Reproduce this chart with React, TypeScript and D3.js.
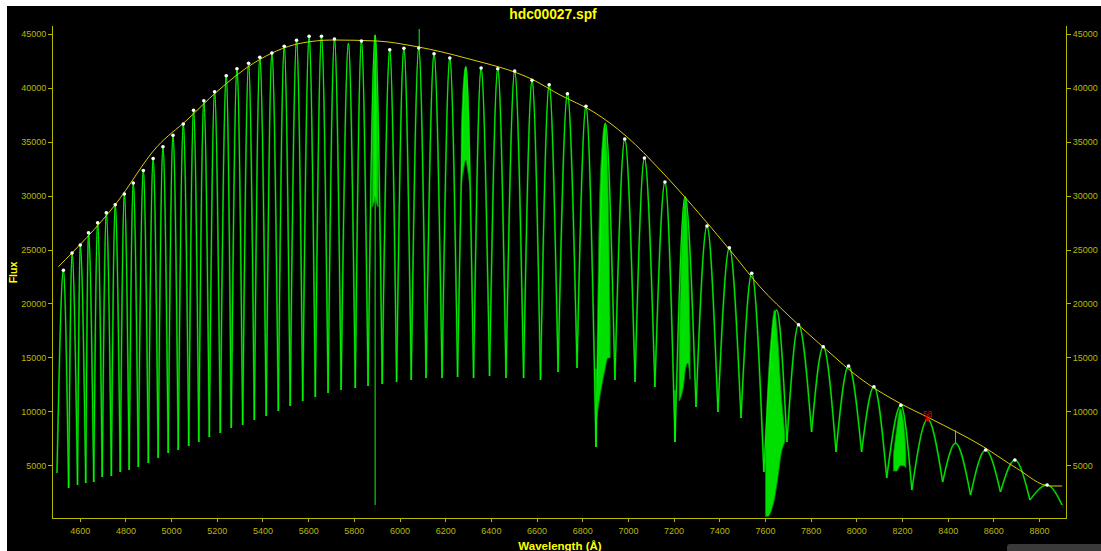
import React from "react";
import * as d3 from "d3";

const W = 1101;
const H = 551;

const title = "hdc00027.spf";
const xLabel = "Wavelength (Å)";
const yLabel = "Flux";

const xTicks = [4600, 4800, 5000, 5200, 5400, 5600, 5800, 6000, 6200, 6400, 6600, 6800, 7000, 7200, 7400, 7600, 7800, 8000, 8200, 8400, 8600, 8800];
const yTicks = [5000, 10000, 15000, 20000, 25000, 30000, 35000, 40000, 45000];

// echelle order peaks (blaze maxima)
const orderPeakWave = [
  4526, 4564, 4600, 4636, 4676, 4714, 4753, 4793, 4832, 4876,
  4919, 4962, 5006, 5051, 5096, 5141, 5188, 5239, 5286, 5337,
  5386, 5439, 5493, 5547, 5602, 5656, 5713, 5774, 5831, 5891,
  5955, 6017, 6082, 6149, 6218, 6288, 6355, 6428, 6502, 6578,
  6653, 6733, 6814, 6899, 6984, 7070, 7160, 7248, 7344, 7442,
  7540, 7649, 7745, 7853, 7964, 8075, 8193, 8310, 8432, 8564,
  8692, 8833,
];
const orderPeakFlux = [
  23125, 24730, 25472, 26613, 27540, 28468, 29210, 30203, 31223, 32383,
  33496, 34590, 35648, 36697, 37968, 38857, 39692, 41177, 41826, 42326,
  42883, 43282, 43903, 44460, 44831, 44831, 44580, 44181, 44395, 44951,
  43589, 43718, 43746, 43218, 42818, 42012, 41891, 41826, 41613, 40750,
  40342, 39507, 38338, 36761, 35305, 33542, 31316, 29952, 27235, 25222,
  22847, 19443, 18079, 16039, 14248, 12328, 10603, 9304, 7078, 6456,
  5529, 3210,
];
// 1 = continuum point marked with a white dot, 2 = selected point (red)
const orderHasDot = [
  1, 1, 1, 1, 1, 1, 1, 1, 1, 1,
  1, 1, 1, 1, 1, 1, 1, 1, 1, 1,
  1, 1, 1, 1, 1, 1, 1, 0, 1, 0,
  1, 1, 1, 1, 1, 0, 1, 1, 1, 1,
  1, 1, 1, 0, 1, 1, 1, 0, 1, 1,
  1, 0, 1, 1, 1, 1, 1, 2, 0, 1,
  1, 1,
];
// order junctions (minima between orders), including the two ends
const junctionWave = [
  4498, 4549, 4588, 4624, 4659, 4696, 4736, 4775, 4814, 4854,
  4898, 4941, 4985, 5029, 5075, 5119, 5165, 5213, 5261, 5311,
  5362, 5414, 5467, 5519, 5574, 5629, 5685, 5742, 5804, 5860,
  5922, 5985, 6049, 6114, 6184, 6252, 6322, 6392, 6464, 6541,
  6615, 6692, 6775, 6858, 6941, 7029, 7116, 7204, 7296, 7392,
  7493, 7593, 7694, 7802, 7909, 8021, 8131, 8241, 8376, 8498,
  8629, 8758, 8899,
];
const junctionFlux = [
  4323, 2931, 3210, 3395, 3488, 3952, 4045, 4416, 4601, 4880,
  5251, 5714, 6178, 6456, 6827, 7198, 7662, 8033, 8497, 8775,
  9239, 9610, 10074, 10538, 11002, 11373, 11744, 12022, 12208, 12393,
  12579, 12764, 12950, 13135, 13135, 13228, 13135, 13321, 13135, 13135,
  12950, 13692, 14063, 6734, 12950, 12764, 12301, 7198, 10445, 9981,
  9424, 4416, 7198, 8126, 6271, 6271, 3859, 2745, 3488, 2282,
  2560, 1818, 1354,
];

// fitted continuum (yellow curve)
const envelopeWave = [4504, 4753, 4936, 5067, 5198, 5358, 5563, 5707, 5899, 6074, 6292, 6584, 6701, 6846, 6993, 7139, 7284, 7445, 7576, 7722, 7868, 8014, 8189, 8320, 8554, 8700, 8846, 8899];
const envelopeFlux = [23459, 29210, 34590, 37067, 39692, 42326, 44181, 44488, 44395, 43866, 42790, 40778, 39386, 37837, 35518, 32429, 29025, 24991, 21595, 18515, 15732, 13107, 10788, 9397, 6762, 4759, 3117, 3117];

// isolated strong features (vertical strokes)
const lineWave = [5891, 6084, 8432, 6858, 7204];
const lineTop = [44951, 45508, 8270, 14000, 12000];
const lineBottom = [1355, 43746, 7078, 6734, 7198];

// dense absorption regions (filled): wavelengths, upper and lower flux
const bandNaWave = [5878, 5887, 5891, 5895, 5904];
const bandNaUpper = [36000, 43000, 44951, 43000, 36000];
const bandNaLower = [29000, 29500, 30000, 29500, 29000];
const band6280Wave = [6268, 6278, 6288, 6296, 6305];
const band6280Upper = [36140, 40778, 42012, 40314, 34285];
const band6280Lower = [31038, 32429, 33357, 32429, 31038];
const bandBWave = [6862, 6872, 6884, 6898, 6910, 6920];
const bandBUpper = [14000, 28000, 34500, 36761, 32000, 18000];
const bandBLower = [9500, 11000, 12500, 14000, 15000, 15000];
const bandWWave = [7222, 7232, 7242, 7250, 7260, 7270];
const bandWUpper = [16000, 25000, 29000, 29952, 26000, 17000];
const bandWLower = [11000, 11500, 12500, 14000, 14500, 13000];
const bandAWave = [7600, 7612, 7625, 7640, 7655, 7668, 7685];
const bandAUpper = [7000, 13000, 17000, 19443, 16500, 12000, 8000];
const bandALower = [300, 300, 800, 2000, 4000, 6000, 7198];
const band8200Wave = [8160, 8175, 8190, 8205, 8215];
const band8200Upper = [6000, 8500, 10300, 9000, 6500];
const band8200Lower = [4500, 4500, 5000, 5000, 4800];

const markedLabel = "58";

export default function App() {
  const left = 52.3, right = 1066.7, top = 26, bottom = 518.3;
  const x = d3.scaleLinear().domain([4477.5, 8919]).range([left, right]);
  const y = d3.scaleLinear().domain([121, 45787]).range([bottom, top]);

  const orderLine = d3
    .line<[number, number]>()
    .x((d) => x(d[0]))
    .y((d) => y(d[1]))
    .curve(d3.curveMonotoneX);

  const orderPaths = orderPeakWave.map((w, i) =>
    orderLine([
      [junctionWave[i], junctionFlux[i]],
      [w, orderPeakFlux[i]],
      [junctionWave[i + 1], junctionFlux[i + 1]],
    ])
  );

  const env = d3
    .line<number>()
    .x((_, i) => x(envelopeWave[i]))
    .y((d) => y(d))
    .curve(d3.curveMonotoneX)(envelopeFlux);

  const bandArea = (ws: number[], up: number[], lo: number[]) =>
    d3
      .area<number>()
      .x((_, i) => x(ws[i]))
      .y0((_, i) => y(lo[i]))
      .y1((d) => y(d))
      .curve(d3.curveMonotoneX)(up);

  const bands = [
    bandArea(bandNaWave, bandNaUpper, bandNaLower),
    bandArea(band6280Wave, band6280Upper, band6280Lower),
    bandArea(bandBWave, bandBUpper, bandBLower),
    bandArea(bandWWave, bandWUpper, bandWLower),
    bandArea(bandAWave, bandAUpper, bandALower),
    bandArea(band8200Wave, band8200Upper, band8200Lower),
  ];

  const axisColor = "#b8b800";
  const tickFont = "'Liberation Sans', Arial, sans-serif";

  const markedIdx = orderHasDot.indexOf(2);

  return (
    <svg
      width={W}
      height={H}
      style={{ position: "absolute", left: 0, top: 0, display: "block" }}
    >
      <rect x={0} y={0} width={W} height={H} fill="#ffffff" />
      <rect x={7} y={6} width={W - 7} height={H - 6} fill="#000000" />

      {/* title */}
      <text x={553} y={19} textAnchor="middle" fill="#ffff00" fontFamily={tickFont} fontWeight="bold" fontSize={13.8}>
        {title}
      </text>

      {/* spectrum: dark-green halo then bright core */}
      <g fill="none" stroke="#007800" strokeWidth={1.9}>
        {orderPaths.map((p, i) => (
          <path key={i} d={p || ""} />
        ))}
      </g>
      <g fill="#00e000" stroke="#009000" strokeWidth={0.8}>
        {bands.map((b, i) => (
          <path key={i} d={b || ""} />
        ))}
      </g>
      <g fill="none" stroke="#00ff00" strokeWidth={0.9}>
        {orderPaths.map((p, i) => (
          <path key={i} d={p || ""} />
        ))}
      </g>
      <g stroke="#00ff00" strokeWidth={1}>
        {lineWave.map((w, i) => (
          <line key={i} x1={x(w)} x2={x(w)} y1={y(lineTop[i])} y2={y(lineBottom[i])} />
        ))}
      </g>

      {/* continuum fit */}
      <path d={env || ""} fill="none" stroke="#d8d000" strokeWidth={1} />

      {/* continuum points */}
      <g>
        {orderPeakWave.map((w, i) =>
          orderHasDot[i] === 1 ? (
            <circle key={i} cx={x(w)} cy={y(orderPeakFlux[i])} r={1.8} fill="#ffffff" />
          ) : null
        )}
      </g>
      {markedIdx >= 0 && (
        <g>
          <circle cx={x(orderPeakWave[markedIdx])} cy={y(orderPeakFlux[markedIdx])} r={2} fill="#e00000" />
          <text
            x={x(orderPeakWave[markedIdx])}
            y={y(orderPeakFlux[markedIdx]) - 2}
            textAnchor="middle"
            fill="#d00000"
            fontFamily={tickFont}
            fontSize={8.5}
          >
            {markedLabel}
          </text>
        </g>
      )}

      {/* axes */}
      <g stroke={axisColor} strokeWidth={1} shapeRendering="crispEdges">
        <line x1={left} x2={left} y1={top} y2={bottom} />
        <line x1={right} x2={right} y1={top} y2={bottom} />
        <line x1={left} x2={right} y1={bottom} y2={bottom} />
        {yTicks.map((t) => (
          <g key={t}>
            <line x1={left - 4} x2={left} y1={y(t)} y2={y(t)} />
            <line x1={right} x2={right + 4} y1={y(t)} y2={y(t)} />
          </g>
        ))}
        {xTicks.map((t) => (
          <line key={t} x1={x(t)} x2={x(t)} y1={bottom} y2={bottom + 4} />
        ))}
      </g>
      <g fill={axisColor} fontFamily={tickFont} fontSize={9}>
        {yTicks.map((t) => (
          <text key={"l" + t} x={left - 6} y={y(t) + 3} textAnchor="end">
            {t}
          </text>
        ))}
        {yTicks.map((t) => (
          <text key={"r" + t} x={right + 6} y={y(t) + 3} textAnchor="start">
            {t}
          </text>
        ))}
        {xTicks.map((t) => (
          <text key={"x" + t} x={x(t)} y={bottom + 16} textAnchor="middle">
            {t}
          </text>
        ))}
      </g>

      {/* axis titles */}
      <text x={560} y={550} textAnchor="middle" fill="#ffff00" fontFamily={tickFont} fontWeight="bold" fontSize={11.5}>
        {xLabel}
      </text>
      <text
        transform="translate(17,272.5) rotate(-90)"
        textAnchor="middle"
        fill="#ffff00"
        fontFamily={tickFont}
        fontWeight="bold"
        fontSize={10.5}
      >
        {yLabel}
      </text>

      {/* bottom-right overlay */}
      <rect x={1007} y={544} width={110} height={14} rx={3} fill="#3a3a3a" />
    </svg>
  );
}
